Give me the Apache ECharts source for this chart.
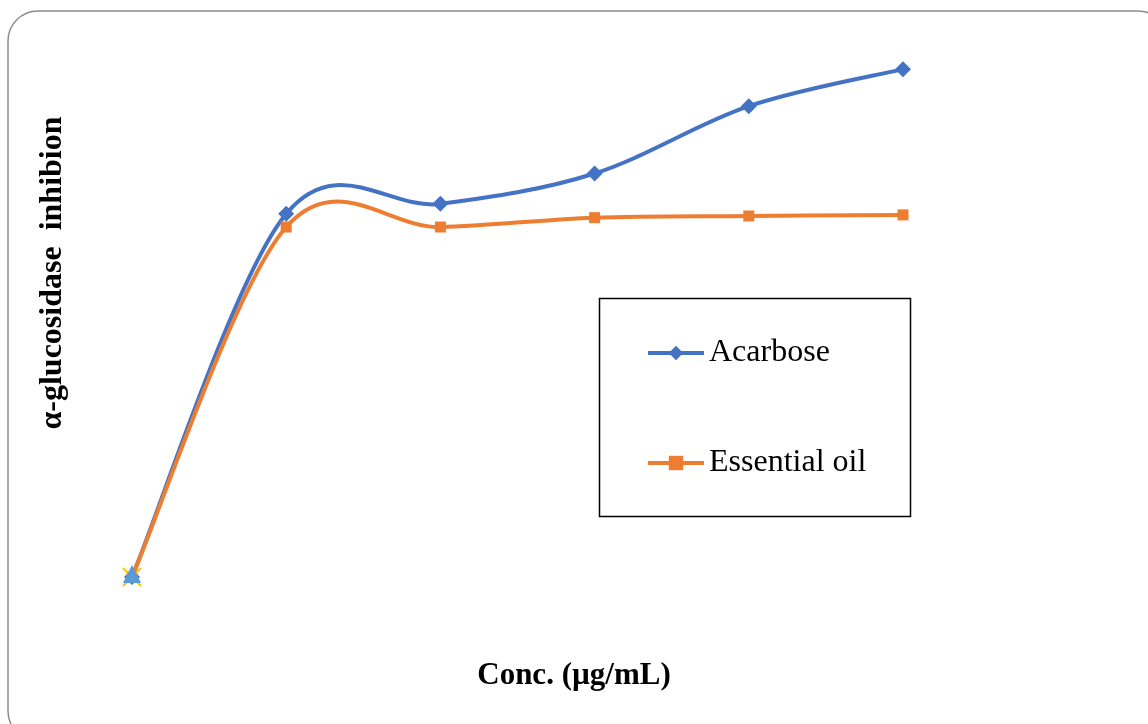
<!DOCTYPE html>
<html><head><meta charset="utf-8">
<script src="https://cdn.jsdelivr.net/npm/echarts@6/dist/echarts.min.js"></script>
<style>html,body{margin:0;padding:0;background:#fff;}#c{width:1148px;height:724px;}</style>
</head><body><div id="c"></div>
<script>
const categories = ['0', '1', '2', '3', '4', '5'];
const acarbose = [0, 65.8, 67.6, 73.1, 85.3, 92.0];
const essentialOil = [0, 63.4, 63.4, 65.1, 65.4, 65.6];
const hiddenA = [0, null, null, null, null, null];
const hiddenB = [0, null, null, null, null, null];
const xTitle = 'Conc. (µg/mL)';
const yTitle = 'α-glucosidase  inhibion';

// Excel-like smoothed curve (Catmull-Rom style Bezier) drawn through the axes' scales
function curveSeries(values, color, z) {
  const n = values.length;
  return {
    type: 'custom', name: '_curve', z: z, silent: true,
    data: values.slice(0, -1).map((v, i) => [i, v]),
    renderItem: function (params, api) {
      const i = params.dataIndex;
      const P = k => { const c = Math.max(0, Math.min(n - 1, k)); return api.coord([c, values[c]]); };
      const p0 = P(i - 1), p1 = P(i), p2 = P(i + 1), p3 = P(i + 2);
      return {
        type: 'bezierCurve',
        shape: {
          x1: p1[0], y1: p1[1], x2: p2[0], y2: p2[1],
          cpx1: p1[0] + (p2[0] - p0[0]) / 6, cpy1: p1[1] + (p2[1] - p0[1]) / 6,
          cpx2: p2[0] - (p3[0] - p1[0]) / 6, cpy2: p2[1] - (p3[1] - p1[1]) / 6
        },
        style: {stroke: color, lineWidth: 4, fill: null, lineCap: 'round'}
      };
    }
  };
}

const chart = echarts.init(document.getElementById('c'), null, {renderer: 'canvas'});
chart.setOption({
  animation: false,
  backgroundColor: '#fff',
  grid: {left: 132, right: 245, top: 25, bottom: 147},
  xAxis: {type: 'category', data: categories, boundaryGap: false, show: false},
  yAxis: {type: 'value', min: 0, max: 100, show: false},
  legend: {
    orient: 'vertical', left: 641, top: 332,
    itemWidth: 56, itemHeight: 18, itemGap: 78,
    data: ['Acarbose', 'Essential oil'],
    lineStyle: {width: 4, opacity: 1},
    textStyle: {fontFamily: 'Liberation Serif', fontSize: 32, color: '#000'}
  },
  graphic: [
    {type: 'rect', left: 5.5, top: 8.5, shape: {width: 1160, height: 730, r: 30},
     style: {fill: 'none', stroke: '#8c8c8c', lineWidth: 1.5}, z: 0},
    {type: 'rect', left: 597, top: 296, shape: {width: 311, height: 218},
     style: {fill: 'none', stroke: '#000', lineWidth: 1.5}, z: 1},
    {type: 'text', left: 'center', top: 660, style: {text: xTitle, font: 'bold 31px "Liberation Serif"', fill: '#000'}},
    {type: 'text', x: 53, y: 273, rotation: Math.PI / 2,
     style: {text: yTitle, font: 'bold 32px "Liberation Serif"', fill: '#000', align: 'center', verticalAlign: 'middle'}}
  ],
  series: [
    curveSeries(acarbose, '#4472C4', 1),
    {name: 'Acarbose', type: 'line', data: acarbose, symbol: 'diamond', symbolSize: 16,
     itemStyle: {color: '#4472C4'}, lineStyle: {color: '#4472C4', width: 4, opacity: 0}, z: 2},
    curveSeries(essentialOil, '#ED7D31', 3),
    {name: 'Essential oil', type: 'line', data: essentialOil, symbol: 'rect', symbolSize: 11,
     itemStyle: {color: '#ED7D31'}, lineStyle: {color: '#ED7D31', width: 4, opacity: 0}, z: 4},
    {name: 'hiddenA', type: 'line', data: hiddenA, symbol: 'path://M-1,-1L1,1M1,-1L-1,1', symbolSize: 18,
     itemStyle: {color: '#FFC000', borderColor: '#FFC000', borderWidth: 2}, lineStyle: {width: 0}, z: 5},
    {name: 'hiddenB', type: 'line', data: hiddenB, symbol: 'triangle', symbolSize: 18, symbolOffset: [0, -3],
     itemStyle: {color: '#5B9BD5'}, lineStyle: {width: 0}, z: 6}
  ]
});
</script></body></html>
